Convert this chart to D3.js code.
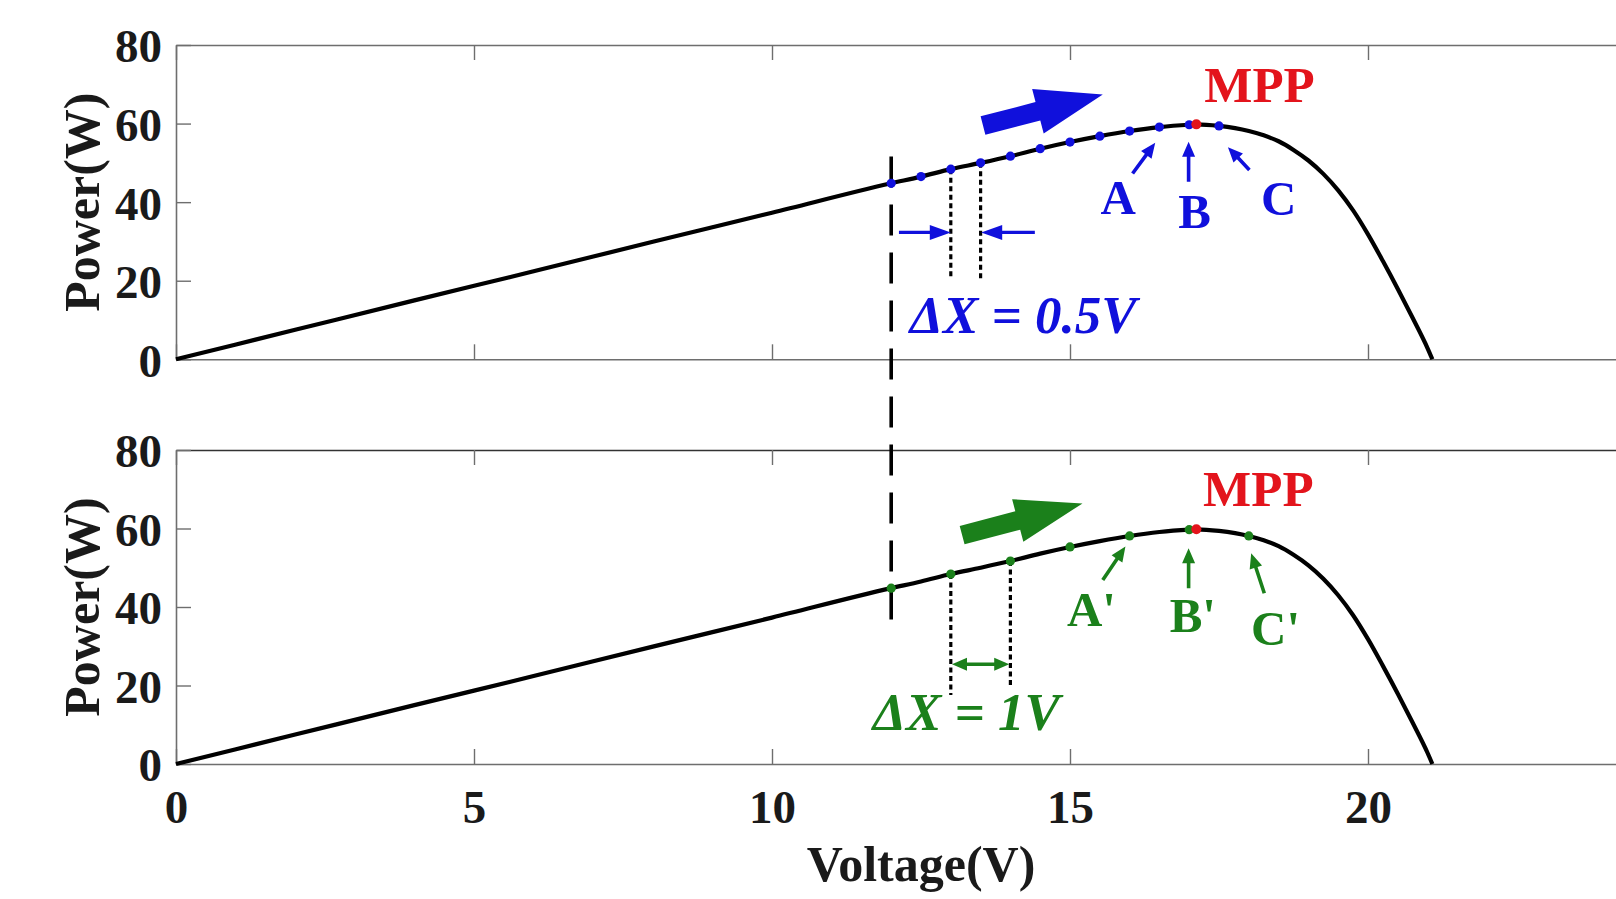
<!DOCTYPE html>
<html><head><meta charset="utf-8">
<script src="https://cdn.jsdelivr.net/npm/d3@7"></script>
<style>
body{margin:0;background:#fff;}
svg{display:block;}
text{font-family:"Liberation Serif","Times New Roman",serif;font-weight:bold;}
</style>
</head><body>
<svg id="c" width="1616" height="899"></svg>
<script>
// ---- data ----
const curveV = [0, 2, 4, 6, 8, 10, 12, 12.5, 13, 13.5, 14, 14.5, 15, 15.5, 16, 16.5, 17, 17.12, 17.5, 18, 18.25, 18.5, 18.75, 19, 19.25, 19.5, 19.75, 20, 20.25, 20.5, 20.75, 21, 21.08];
const curveP = [0, 7.5, 15.0, 22.4, 29.9, 37.3, 44.8, 46.5, 48.4, 50.0, 51.7, 53.6, 55.3, 56.8, 58.1, 59.1, 59.7, 59.8, 59.4, 58.1, 57.0, 55.5, 53.3, 50.6, 47.2, 43.0, 37.9, 31.8, 25.0, 17.9, 10.5, 2.8, 0];
const topStepV = [12, 12.5, 13, 13.5, 14, 14.5, 15, 15.5, 16, 16.5, 17, 17.5];
const topStepP = [44.8, 46.5, 48.4, 50.0, 51.7, 53.6, 55.3, 56.8, 58.1, 59.1, 59.7, 59.4];
const botStepV = [12, 13, 14, 15, 16, 17, 18];
const botStepP = [44.8, 48.4, 51.7, 55.3, 58.1, 59.7, 58.1];
const mppV = 17.12, mppP = 59.8;
const xTicks = [0, 5, 10, 15, 20, 25];
const xTickLabels = ["0", "5", "10", "15", "20", ""];
const yTicks = [0, 20, 40, 60, 80];
const xLabel = "Voltage(V)";
const yLabel = "Power(W)";

const BLUE = "#1010dc", GREEN = "#1b801b", RED = "#e3141c";

const svg = d3.select("#c");
const x = d3.scaleLinear().domain([0, 25]).range([176, 1666]);
const panels = [
  {y: d3.scaleLinear().domain([0, 80]).range([359.3, 45])},
  {y: d3.scaleLinear().domain([0, 80]).range([764, 450])}
];

function arrowPts(x1, y1, x2, y2, sw, hw, hl, both) {
  const dx = x2 - x1, dy = y2 - y1, L = Math.hypot(dx, dy);
  const ux = dx / L, uy = dy / L, nx = -uy, ny = ux;
  const p = (bx, by, o) => [bx + nx * o, by + ny * o];
  const b2x = x2 - ux * hl, b2y = y2 - uy * hl;
  let pts;
  if (both) {
    const b1x = x1 + ux * hl, b1y = y1 + uy * hl;
    pts = [[x1, y1], p(b1x, b1y, hw / 2), p(b1x, b1y, sw / 2), p(b2x, b2y, sw / 2), p(b2x, b2y, hw / 2), [x2, y2],
           p(b2x, b2y, -hw / 2), p(b2x, b2y, -sw / 2), p(b1x, b1y, -sw / 2), p(b1x, b1y, -hw / 2)];
  } else {
    pts = [p(x1, y1, sw / 2), p(b2x, b2y, sw / 2), p(b2x, b2y, hw / 2), [x2, y2],
           p(b2x, b2y, -hw / 2), p(b2x, b2y, -sw / 2), p(x1, y1, -sw / 2)];
  }
  return pts.map(q => q.join(",")).join(" ");
}
function arrow(g, y, v1, p1, v2, p2, color, sw, hw, hl, both) {
  g.append("polygon").attr("points", arrowPts(x(v1), y(p1), x(v2), y(p2), sw, hw, hl, both)).attr("fill", color);
}
function label(g, y, v, p, txt, color, size, anchor, italic) {
  g.append("text").attr("x", x(v)).attr("y", y(p)).attr("fill", color)
    .attr("font-size", size).attr("text-anchor", anchor || "middle")
    .attr("font-style", italic ? "italic" : "normal").text(txt);
}

const curveData = curveV.map((v, i) => [v, curveP[i]]);

panels.forEach((pn, k) => {
  const y = pn.y;
  const g = svg.append("g");
  const yr = y.range();
  const gb = g.append("g").attr("transform", `translate(0,${yr[0]})`)
    .call(d3.axisBottom(x).tickValues(xTicks).tickSizeInner(-15).tickSizeOuter(0).tickPadding(26)
      .tickFormat((d, i) => k === 1 ? xTickLabels[i] : ""));
  const gt = g.append("g").attr("transform", `translate(0,${yr[1]})`)
    .call(d3.axisTop(x).tickValues(xTicks).tickSizeInner(-15).tickSizeOuter(0).tickFormat(() => ""));
  const gl = g.append("g").attr("transform", `translate(${x(0)},0)`)
    .call(d3.axisLeft(y).tickValues(yTicks).tickSizeInner(-15).tickSizeOuter(0).tickPadding(14));
  [gb, gt, gl].forEach(a => {
    a.selectAll("path.domain").attr("stroke", "#6e6e6e").attr("stroke-width", 1.6);
    a.selectAll(".tick line").attr("stroke", "#6e6e6e").attr("stroke-width", 1.4);
    a.selectAll("text").attr("fill", "#1a1a1a").attr("font-size", 47)
      .attr("font-family", '"Liberation Serif","Times New Roman",serif').attr("font-weight", "bold");
  });
  if (k === 1) gt.selectAll("path.domain").attr("stroke", "#333");
  gl.selectAll("text").attr("dy", "0.36em");
  g.append("text").attr("transform", `translate(99,${(yr[0] + yr[1]) / 2}) rotate(-90)`)
    .attr("text-anchor", "middle").attr("font-size", 50).attr("fill", "#1a1a1a").text(yLabel);

  g.append("path").datum(curveData)
    .attr("d", d3.line().x(d => x(d[0])).y(d => y(d[1])).curve(d3.curveMonotoneX))
    .attr("fill", "none").attr("stroke", "#000").attr("stroke-width", 4.2);
});

// dashed vertical line at 12 V spanning both panels
svg.append("line").attr("x1", x(12)).attr("x2", x(12))
  .attr("y1", panels[0].y(51.6)).attr("y2", panels[1].y(36.3))
  .attr("stroke", "#000").attr("stroke-width", 3.6).attr("stroke-dasharray", "31,17");

// ---- top panel annotations ----
(function () {
  const y = panels[0].y, g = svg.append("g");
  [[13, 48.4, 21.0], [13.5, 50.0, 20.2]].forEach(d => {
    g.append("line").attr("x1", x(d[0])).attr("x2", x(d[0])).attr("y1", y(d[1])).attr("y2", y(d[2]))
      .attr("stroke", "#000").attr("stroke-width", 3.2).attr("stroke-dasharray", "5,3.5");
  });
  g.selectAll("circle.s").data(topStepV).join("circle")
    .attr("cx", v => x(v)).attr("cy", (v, i) => y(topStepP[i])).attr("r", 4.6).attr("fill", BLUE);
  g.append("circle").attr("cx", x(mppV)).attr("cy", y(mppP)).attr("r", 5).attr("fill", RED);
  arrow(g, y, 13.54, 59.5, 15.55, 67.4, BLUE, 19, 46, 67);
  arrow(g, y, 16.05, 47.3, 16.43, 55.1, BLUE, 3.6, 13, 15);
  arrow(g, y, 16.99, 45.2, 16.99, 55.4, BLUE, 3.6, 13, 15);
  arrow(g, y, 18.01, 48.2, 17.65, 54.0, BLUE, 3.6, 13, 15);
  arrow(g, y, 12.13, 32.3, 13.0, 32.3, BLUE, 3.4, 15, 21);
  arrow(g, y, 14.41, 32.3, 13.51, 32.3, BLUE, 3.4, 15, 21);
  label(g, y, 15.81, 37.0, "A", BLUE, 49);
  label(g, y, 17.09, 33.4, "B", BLUE, 49);
  label(g, y, 18.50, 36.7, "C", BLUE, 49);
  label(g, y, 18.18, 65.6, "MPP", RED, 51);
  label(g, y, 12.31, 6.7, "\u0394X = 0.5V", BLUE, 53, "start", true);
})();

// ---- bottom panel annotations ----
(function () {
  const y = panels[1].y, g = svg.append("g");
  [[13, 48.4, 17.6], [14, 51.7, 19.7]].forEach(d => {
    g.append("line").attr("x1", x(d[0])).attr("x2", x(d[0])).attr("y1", y(d[1])).attr("y2", y(d[2]))
      .attr("stroke", "#000").attr("stroke-width", 3.2).attr("stroke-dasharray", "5,3.5");
  });
  g.selectAll("circle.s").data(botStepV).join("circle")
    .attr("cx", v => x(v)).attr("cy", (v, i) => y(botStepP[i])).attr("r", 4.6).attr("fill", GREEN);
  g.append("circle").attr("cx", x(mppV)).attr("cy", y(mppP)).attr("r", 5).attr("fill", RED);
  arrow(g, y, 13.19, 58.3, 15.21, 66.4, GREEN, 19, 44, 67);
  arrow(g, y, 15.55, 46.9, 15.93, 55.4, GREEN, 3.6, 13, 15);
  arrow(g, y, 16.99, 44.8, 16.99, 55.0, GREEN, 3.6, 13, 15);
  arrow(g, y, 18.26, 43.5, 18.04, 53.7, GREEN, 3.6, 13, 15);
  arrow(g, y, 13.02, 25.4, 13.98, 25.4, GREEN, 3.4, 13, 15, true);
  label(g, y, 15.36, 35.2, "A'", GREEN, 49);
  label(g, y, 17.06, 33.7, "B'", GREEN, 49);
  label(g, y, 18.45, 30.3, "C'", GREEN, 49);
  label(g, y, 18.16, 65.7, "MPP", RED, 51);
  label(g, y, 11.69, 8.7, "\u0394X = 1V", GREEN, 53, "start", true);
})();

svg.append("text").attr("x", (x(0) + x(25)) / 2).attr("y", 881).attr("text-anchor", "middle")
  .attr("font-size", 50).attr("fill", "#1a1a1a").text(xLabel);
</script>
</body></html>
